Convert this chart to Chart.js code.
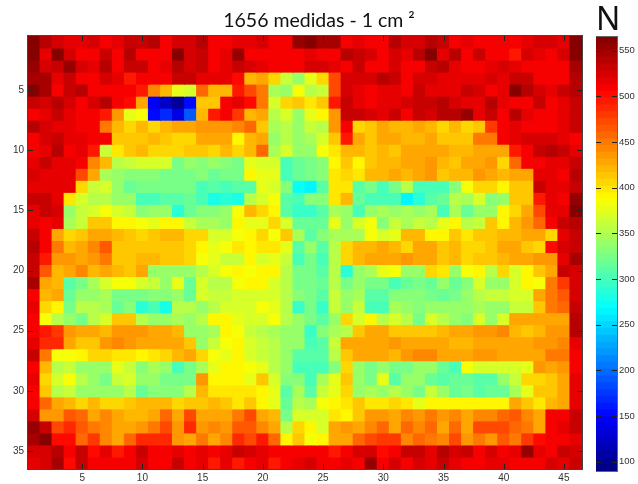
<!DOCTYPE html>
<html>
<head>
<meta charset="utf-8">
<style>
  html, body { margin: 0; padding: 0; background: #fff; }
  canvas { position: absolute; top: 0; }
  #heatmap { left: 0; }
  #colorbar { left: 596px; }
</style>
<script src="https://cdn.jsdelivr.net/npm/chart.js@4"></script>
</head>
<body>
<canvas id="heatmap" width="638" height="484"></canvas>
<canvas id="colorbar" width="42" height="484"></canvas>
<script>
// Tick labels
const xTicks = [5, 10, 15, 20, 25, 30, 35, 40, 45];
const yTicks = [5, 10, 15, 20, 25, 30, 35];
const barTicks = [100, 150, 200, 250, 300, 350, 400, 450, 500, 550];
const barMin = 90;
const barMax = 565;

// N per cell, one array per row
const row01 = [565,540,525,518,518,525,512,518,532,532,540,510,525,525,537,510,510,518,518,522,510,510,555,562,545,545,512,515,508,512,542,527,527,542,530,507,518,513,513,513,507,515,522,522,518,565];
const row02 = [558,518,560,525,506,512,535,512,542,506,507,512,560,525,535,506,517,553,506,506,508,512,506,518,506,506,537,532,522,512,525,518,542,558,515,538,512,535,512,507,498,527,520,506,525,563];
const row03 = [552,522,535,555,527,520,542,512,535,535,512,520,542,525,535,506,518,535,527,514,510,512,512,522,527,514,506,535,506,512,527,513,513,535,538,518,512,512,517,527,518,507,512,512,512,550];
const row04 = [548,548,518,535,512,512,525,518,495,506,512,512,535,530,520,516,516,500,423,428,402,360,335,375,402,470,527,527,527,542,535,507,527,527,518,518,518,518,522,518,530,530,507,512,512,542];
const row05 = [565,545,512,535,542,512,512,506,507,495,445,417,375,368,458,423,417,493,470,452,345,340,380,355,362,470,527,515,507,514,518,512,535,518,518,514,535,527,512,518,562,542,527,520,535,542];
const row06 = [535,522,538,527,506,522,542,506,502,431,149,125,100,150,410,413,506,515,503,450,368,402,413,397,412,493,535,515,506,514,518,526,535,535,542,526,518,518,538,518,512,512,535,512,518,530];
const row07 = [506,515,530,518,512,512,495,438,375,380,150,165,135,193,417,493,512,478,423,428,357,365,342,374,387,438,535,535,526,515,535,506,535,522,542,542,551,515,535,506,538,515,506,512,518,530];
const row08 = [540,526,518,518,512,512,452,417,405,417,402,420,424,431,438,438,438,445,461,410,345,350,335,360,353,438,506,405,412,424,417,423,428,423,402,420,402,410,478,506,515,506,512,512,518,535];
const row09 = [512,522,530,518,515,506,509,410,416,416,420,412,402,402,424,424,424,393,420,428,335,350,335,345,372,410,493,424,410,424,424,417,423,431,410,410,410,452,452,506,514,522,522,522,515,506];
const row10 = [512,515,538,506,518,493,358,398,410,417,405,405,405,413,413,402,420,405,420,458,345,370,337,335,380,400,420,420,412,420,410,424,431,431,424,417,417,424,428,424,495,506,530,538,530,514];
const row11 = [518,530,515,515,512,445,420,355,362,366,366,368,327,335,330,335,330,327,375,370,370,305,318,327,330,388,412,387,412,420,420,424,428,438,417,410,424,431,435,402,461,506,506,515,515,530];
const row12 = [522,518,518,515,470,424,343,335,330,330,330,322,322,322,330,318,322,322,388,378,378,298,315,327,330,397,405,397,417,420,424,417,424,438,410,420,420,435,431,420,424,428,515,515,506,542];
const row13 = [518,518,518,515,405,362,370,335,317,327,327,327,322,322,300,310,305,312,312,378,370,330,272,268,312,398,398,310,322,305,322,355,303,303,303,330,385,402,402,387,410,410,535,515,515,535];
const row14 = [535,530,515,400,365,355,355,338,335,298,305,312,312,318,298,278,290,278,352,368,386,312,300,330,330,398,417,318,298,298,305,268,285,312,320,350,345,372,330,340,416,416,495,518,512,555];
const row15 = [518,530,522,340,360,368,380,368,360,330,340,335,290,318,328,328,335,382,417,402,392,310,295,297,312,348,340,305,340,348,335,348,335,345,305,345,313,335,335,388,405,431,470,514,515,558];
const row16 = [515,506,518,348,362,410,410,387,387,380,376,387,387,362,348,348,340,387,376,376,402,370,313,318,318,378,335,365,386,333,360,345,360,355,377,387,357,360,410,387,417,435,461,512,530,542];
const row17 = [535,506,428,402,412,424,431,417,410,402,410,417,417,405,405,366,366,380,387,405,386,410,345,312,330,348,348,348,380,370,375,417,417,392,392,410,397,412,412,417,417,431,431,402,514,530];
const row18 = [538,506,452,417,431,445,465,412,412,412,412,412,412,405,387,378,382,397,387,400,400,378,310,335,310,352,405,420,420,424,417,402,431,424,410,417,402,402,412,424,431,412,405,500,522,535];
const row19 = [535,493,435,435,428,438,450,412,412,417,417,410,410,405,382,378,362,362,387,372,376,360,305,325,305,350,402,417,424,424,424,438,431,431,412,420,405,412,412,420,428,428,435,438,518,545];
const row20 = [535,465,417,428,442,417,428,420,410,424,335,335,337,335,355,372,380,387,382,387,387,357,325,325,310,350,288,335,348,376,382,342,342,405,400,342,386,387,357,405,372,387,410,431,530,526];
const row21 = [547,428,417,312,327,348,366,382,382,372,358,335,376,318,365,357,357,380,387,387,365,350,327,327,318,350,327,342,322,322,305,315,322,315,335,315,330,365,342,342,372,387,380,452,478,522];
const row22 = [506,420,431,318,335,340,348,322,322,322,330,330,340,318,372,362,362,368,368,368,368,350,333,322,312,360,335,345,312,312,330,330,330,322,318,322,340,357,362,362,365,365,431,450,465,522];
const row23 = [518,405,387,327,350,350,345,315,330,288,300,280,355,355,342,355,368,368,368,380,376,350,297,322,297,360,335,358,305,305,345,335,330,340,340,337,340,348,342,337,360,358,412,450,460,530];
const row24 = [506,382,353,337,327,353,368,410,410,357,340,340,348,335,353,387,387,373,368,368,382,357,335,322,312,335,402,366,387,353,365,353,322,372,353,335,330,366,342,366,431,431,424,424,424,538];
const row25 = [506,498,478,435,424,431,417,435,438,438,424,431,417,342,342,345,387,380,362,350,345,340,335,297,330,345,357,410,424,428,412,412,412,412,420,424,431,438,438,445,417,410,420,435,435,538];
const row26 = [518,485,485,424,412,412,438,445,438,431,431,424,424,410,338,362,380,387,366,358,352,340,340,305,312,358,424,424,428,428,438,424,424,424,424,417,417,424,431,431,431,431,435,435,442,515];
const row27 = [530,452,382,382,387,405,405,395,395,387,397,405,420,431,405,386,378,387,368,362,350,335,308,308,308,352,412,428,428,428,420,435,442,442,431,431,431,438,438,428,428,428,431,450,450,506];
const row28 = [506,417,353,360,340,340,340,378,362,332,345,337,305,322,345,378,387,387,382,378,352,340,305,305,305,332,402,335,325,337,327,327,342,337,320,305,382,370,370,370,370,378,435,424,438,506];
const row29 = [515,405,372,382,350,337,327,358,366,342,342,327,327,327,435,387,387,387,378,410,370,330,330,305,345,378,410,340,327,378,312,340,340,318,310,318,318,307,307,337,360,402,405,412,428,515];
const row30 = [506,412,350,360,335,335,335,338,357,315,330,330,330,350,420,397,397,397,397,387,378,312,345,312,360,378,402,335,345,338,355,337,322,358,335,315,322,312,320,320,345,378,410,412,428,518];
const row31 = [506,458,431,417,402,420,402,402,410,417,417,417,402,410,410,417,410,396,410,387,378,315,350,345,382,388,398,410,397,397,405,397,378,387,392,392,392,392,392,392,424,410,397,420,428,515];
const row32 = [526,438,435,465,460,431,442,424,417,417,431,458,431,470,431,424,431,450,473,424,417,322,372,368,372,397,387,410,435,438,431,445,438,452,435,445,431,445,445,458,465,442,428,506,506,530];
const row33 = [555,535,470,485,465,452,445,431,424,438,452,470,435,485,438,442,435,465,465,442,424,357,402,387,368,428,435,424,445,460,431,455,445,460,431,458,431,470,470,470,458,450,431,506,514,530];
const row34 = [547,563,500,500,460,478,442,424,460,485,485,485,438,428,452,424,445,485,470,492,460,387,412,380,387,431,431,460,470,478,478,445,460,452,442,473,438,452,435,465,450,478,500,506,506,515];
const row35 = [522,522,538,506,530,505,518,495,506,530,506,509,518,506,515,506,518,530,526,515,509,509,506,506,512,495,506,522,522,502,506,530,535,518,540,522,530,506,526,506,515,551,515,506,530,526];
const row36 = [515,522,547,500,535,506,506,506,506,522,506,506,530,506,515,495,515,495,506,515,495,506,515,522,506,506,515,506,551,506,522,506,522,515,530,515,506,513,518,518,506,506,513,522,515,535];

const rows = [row01, row02, row03, row04, row05, row06, row07, row08, row09, row10, row11, row12,
  row13, row14, row15, row16, row17, row18, row19, row20, row21, row22, row23, row24,
  row25, row26, row27, row28, row29, row30, row31, row32, row33, row34, row35, row36];

const LEVELS = 64;

// MATLAB jet, 64 steps
function jet(v) {
  const level = Math.min(LEVELS - 1, Math.floor((v - barMin) / (barMax - barMin) * LEVELS));
  const t = (level + 0.5) / LEVELS;
  const c = x => Math.round(255 * Math.max(0, Math.min(1, 1.5 - Math.abs(4 * t - x))));
  return `rgb(${c(3)},${c(2)},${c(1)})`;
}

// MATLAB style ticks pointing into the plot, plus the frame
function insideTicks(xValues, yValues, len, frame) {
  return {
    id: 'insideTicks',
    afterDatasetsDraw(chart) {
      const { ctx, chartArea: a, scales } = chart;
      ctx.save();
      ctx.strokeStyle = '#222';
      ctx.lineWidth = 1;
      ctx.beginPath();
      xValues.forEach(v => {
        const x = Math.round(scales.x.getPixelForValue(v)) + 0.5;
        ctx.moveTo(x, a.top); ctx.lineTo(x, a.top + len);
        ctx.moveTo(x, a.bottom); ctx.lineTo(x, a.bottom - len);
      });
      yValues.forEach(v => {
        const y = Math.round(scales.y.getPixelForValue(v)) + 0.5;
        ctx.moveTo(a.left, y); ctx.lineTo(a.left + len, y);
        ctx.moveTo(a.right, y); ctx.lineTo(a.right - len, y);
      });
      ctx.stroke();
      ctx.strokeStyle = frame;
      ctx.strokeRect(a.left - 0.5, a.top - 0.5, a.right - a.left + 1, a.bottom - a.top + 1);
      ctx.restore();
    }
  };
}

const tickFont = { family: '"Liberation Sans", sans-serif', size: 10 };
const columns = row01.map((_, i) => i + 1);

// Main heatmap: one floating bar dataset per row
new Chart(document.getElementById('heatmap'), {
  type: 'bar',
  data: {
    labels: columns,
    datasets: rows.map((row, r) => ({
      data: row.map(() => [r + 0.5, r + 1.5]),
      backgroundColor: row.map(jet),
      borderWidth: 0,
      inflateAmount: 0.5,
      barPercentage: 1,
      categoryPercentage: 1,
      grouped: false
    }))
  },
  options: {
    responsive: false,
    animation: false,
    plugins: {
      legend: { display: false },
      tooltip: { enabled: false },
      title: {
        display: true,
        text: '1656 medidas - 1 cm ²',
        color: '#111',
        font: { family: 'Lato, sans-serif', size: 19.5, weight: 'normal' },
        padding: { top: 9, bottom: 3.6 }
      }
    },
    scales: {
      x: {
        grid: { display: false, drawTicks: false },
        border: { display: false },
        ticks: {
          autoSkip: false,
          maxRotation: 0,
          padding: 3,
          color: '#333',
          font: tickFont,
          callback: (value, i) => xTicks.includes(i + 1) ? String(i + 1) : ''
        },
        afterFit: s => { s.height = 15; }
      },
      y: {
        reverse: true,
        min: 0.5,
        max: 36.5,
        grid: { display: false, drawTicks: false },
        border: { display: false },
        afterBuildTicks: s => { s.ticks = yTicks.map(v => ({ value: v })); },
        ticks: { padding: 4, color: '#333', font: tickFont },
        afterFit: s => { s.width = 28; }
      },
      // empty axis, keeps room for the colour bar so the title stays centred on the page
      spare: {
        type: 'linear',
        position: 'right',
        grid: { display: false, drawTicks: false },
        border: { display: false },
        ticks: { display: false },
        afterFit: s => { s.width = 56; }
      }
    }
  },
  plugins: [insideTicks(xTicks.map(v => v - 1), yTicks, 5, '#444')]
});

// Colour bar
const barSteps = Array.from({ length: LEVELS }, (_, i) => barMin + (barMax - barMin) * i / LEVELS);

new Chart(document.getElementById('colorbar'), {
  type: 'bar',
  data: {
    labels: ['N'],
    datasets: barSteps.map(lo => ({
      data: [[lo, lo + (barMax - barMin) / LEVELS]],
      backgroundColor: jet(lo + 1),
      borderWidth: 0,
      inflateAmount: 0.5,
      barPercentage: 1,
      categoryPercentage: 1,
      grouped: false
    }))
  },
  options: {
    responsive: false,
    animation: false,
    layout: { padding: { bottom: 13 } },
    plugins: {
      legend: { display: false },
      tooltip: { enabled: false },
      title: {
        display: true,
        text: 'N',
        align: 'start',
        color: '#111',
        font: { family: '"Noto Sans", sans-serif', size: 32, weight: 'normal', lineHeight: 1 },
        padding: { top: 5, bottom: 0 }
      }
    },
    scales: {
      x: { display: false },
      y: {
        position: 'right',
        min: barMin,
        max: barMax,
        grid: { display: false, drawTicks: false },
        border: { display: false },
        afterBuildTicks: s => { s.ticks = barTicks.map(v => ({ value: v })); },
        ticks: { padding: 2, color: '#333', font: { family: '"Liberation Sans", sans-serif', size: 9.5 } },
        afterFit: s => { s.width = 21; }
      }
    }
  },
  plugins: [insideTicks([], barTicks, 5, '#666')]
});
</script>
</body>
</html>
